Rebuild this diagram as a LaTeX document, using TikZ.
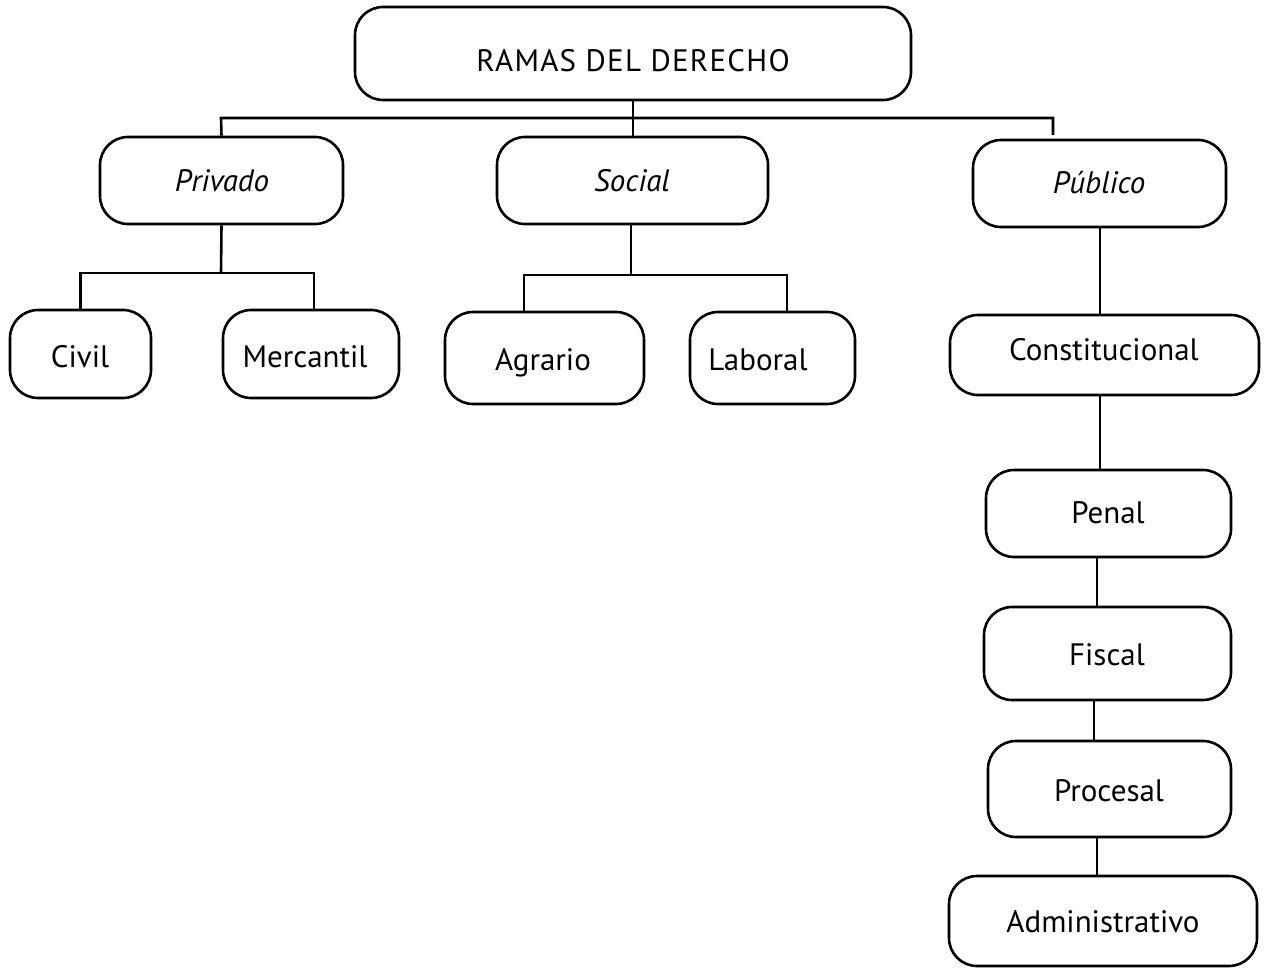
\documentclass[tikz,border=0pt]{standalone}
\usepackage{fontspec}
\setmainfont{PT Sans}
\begin{document}
\begin{tikzpicture}[x=1pt,y=-1pt,
  box/.style={draw,line width=2.6pt,rounded corners=28pt,inner sep=0pt},
  txt/.style={anchor=base,inner sep=0pt,font=\fontsize{31}{36}\selectfont},
  conn/.style={line width=2.6pt}]
\useasboundingbox (0,0) rectangle (1265,968);
% boxes
\node[box,minimum width=556pt,minimum height=93pt] (top) at (633,53.5) {};
\node[box,minimum width=243pt,minimum height=87pt] (priv) at (221.5,180.5) {};
\node[box,minimum width=271pt,minimum height=87pt] (soc) at (632.5,180.5) {};
\node[box,minimum width=253pt,minimum height=87pt] (pub) at (1099.5,183.5) {};
\node[box,minimum width=141pt,minimum height=88pt] (civil) at (80.5,354) {};
\node[box,minimum width=176pt,minimum height=88pt] (merc) at (311,354) {};
\node[box,minimum width=199pt,minimum height=92pt] (agr) at (544.5,358) {};
\node[box,minimum width=165pt,minimum height=92pt] (lab) at (772.5,358) {};
\node[box,minimum width=309pt,minimum height=80pt] (cons) at (1104.5,355) {};
\node[box,minimum width=245pt,minimum height=87pt] (penal) at (1108.5,513.5) {};
\node[box,minimum width=247pt,minimum height=93pt] (fiscal) at (1107.5,653.5) {};
\node[box,minimum width=243pt,minimum height=96pt] (proc) at (1109.5,789) {};
\node[box,minimum width=308pt,minimum height=90pt] (adm) at (1103,921) {};
% texts
\node[txt] (topT) at (633,72) {\addfontfeature{LetterSpace=4}RAMAS DEL DERECHO};
\node[txt] (privT) at (222,192) {\itshape Privado};
\node[txt] (socT) at (632,192) {\itshape Social};
\node[txt] (pubT) at (1099,194) {\itshape Público};
\node[txt] (civilT) at (80,367) {Civil};
\node[txt] (mercT) at (305,367) {Mercantil};
\node[txt] (agrT) at (543,370) {Agrario};
\node[txt] (labT) at (758,370) {Laboral};
\node[txt] (consT) at (1104,360) {Constitucional};
\node[txt] (penalT) at (1108,523) {Penal};
\node[txt] (fiscalT) at (1107,665) {Fiscal};
\node[txt] (procT) at (1109,801) {Procesal};
\node[txt] (admT) at (1103,932) {Administrativo};
% top level
\coordinate (busL) at (221,118);
\coordinate (busR) at (1053,118);
\coordinate (pubtick) at (1053,135);
\draw[conn] (top.south) -- (top.south |- soc.north);
\draw[conn] (priv.north) -- (busL) -- (busR) -- (pubtick);
% privado
\coordinate (pj) at (221,273);
\draw[conn] (priv.south) -- (pj);
\draw[conn] (civil.north) |- (pj);
\draw[conn] (pj) -| ([xshift=3pt]merc.north);
% social
\coordinate (sj) at (631,275);
\draw[conn] ([xshift=-1.5pt]soc.south) -- (sj);
\draw[conn] ([xshift=-20.5pt]agr.north) |- (sj);
\draw[conn] (sj) -| ([xshift=14.5pt]lab.north);
% publico chain
\draw[conn] ([xshift=0.5pt]pub.south) -- ([xshift=0.5pt]pub.south |- cons.north);
\draw[conn] ([xshift=-4.5pt]cons.south) -- ([xshift=-4.5pt]cons.south |- penal.north);
\draw[conn] ([xshift=-11.5pt]penal.south) -- ([xshift=-11.5pt]penal.south |- fiscal.north);
\draw[conn] ([xshift=-13.5pt]fiscal.south) -- ([xshift=-13.5pt]fiscal.south |- proc.north);
\draw[conn] ([xshift=-12.5pt]proc.south) -- ([xshift=-12.5pt]proc.south |- adm.north);
\end{tikzpicture}
\end{document}
